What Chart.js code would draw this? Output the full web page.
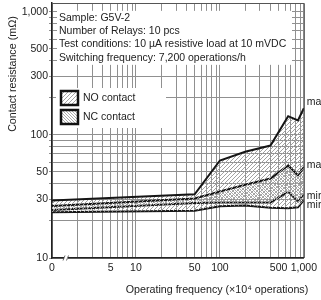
<!DOCTYPE html>
<html>
<head>
<meta charset="utf-8">
<script src="https://cdn.jsdelivr.net/npm/chart.js@4.4.1/dist/chart.umd.min.js"></script>
<style>
html, body { margin: 0; padding: 0; background: #fff; }
#wrap { width: 321px; height: 300px; }
</style>
</head>
<body>
<div id="wrap"><canvas id="contactChart" width="321" height="300"></canvas></div>
<script>
// Operating frequency (x10^4 operations); 1 is shown as "0" on the broken axis
const cycles = [1, 50, 100, 200, 400, 650, 850, 1000];
// Contact resistance (mOhm)
const noMax = [29.3, 32.9, 62, 73, 82, 142, 131, 165];
const noMin = [23.5, 24.2, 26.3, 26.7, 25.6, 25.4, 25.8, 29.6];
const ncMax = [26.5, 30.5, 34.7, 39.4, 44.2, 56.5, 47, 54.7];
const ncMin = [24.5, 28, 28.3, 28.3, 28.2, 34.5, 28.7, 32.5];

const xTickLabels = { 1: '0', 5: '5', 10: '10', 50: '50', 100: '100', 500: '500', 1000: '1,000' };
const yTickLabels = { 10: '10', 30: '30', 50: '50', 100: '100', 300: '300', 500: '500', 1000: '1,000' };
const notes = [
    'Sample: G5V-2',
    'Number of Relays: 10 pcs',
    'Test conditions: 10 \u00b5A resistive load at 10 mVDC',
    'Switching frequency: 7,200 operations/h'
];
const legendNames = ['NO contact', 'NC contact'];
const endLabels = ['max', 'max', 'min', 'min'];

const FONT = '"Liberation Sans", Arial, Helvetica, sans-serif';
const TEXT = '#222';

function logTicks(min, max) {
    const t = [];
    for (let d = min; d < max; d *= 10) {
        for (let k = 1; k < 10; k++) t.push(d * k);
    }
    t.push(max);
    return t;
}

function hatch(dir, step, color) {
    const c = document.createElement('canvas');
    c.width = step; c.height = step;
    const g = c.getContext('2d');
    g.strokeStyle = color;
    g.lineWidth = 1;
    g.beginPath();
    if (dir > 0) {
        g.moveTo(-1, step + 1); g.lineTo(step + 1, -1);
    } else {
        g.moveTo(-1, -1); g.lineTo(step + 1, step + 1);
    }
    g.stroke();
    return g.createPattern(c, 'repeat');
}

const ctx = document.getElementById('contactChart').getContext('2d');
const noFill = hatch(1, 4, '#a2a2a2');
const ncFill = hatch(-1, 3, '#acacac');

function pts(arr) {
    return cycles.map((x, i) => ({ x: x, y: arr[i] }));
}

function lineSet(label, arr, fill, bg) {
    return {
        label: label,
        data: pts(arr),
        fill: fill,
        backgroundColor: bg || 'transparent',
        borderColor: '#151515',
        borderWidth: 2,
        pointRadius: 0,
        tension: 0
    };
}

const extras = {
    id: 'extras',
    afterDraw(chart) {
        const c = chart.ctx;
        const a = chart.chartArea;
        const ys = chart.scales.y;
        c.save();

        // frame top / right
        c.strokeStyle = '#555';
        c.lineWidth = 1;
        c.beginPath();
        c.moveTo(a.left, a.top + 0.5); c.lineTo(a.right + 0.5, a.top + 0.5);
        c.lineTo(a.right + 0.5, a.bottom);
        c.stroke();

        // test condition box
        c.fillStyle = '#fff';
        c.fillRect(a.left + 5, ys.getPixelForValue(1000) - 1, 235, 54);
        c.fillStyle = TEXT;
        c.font = '10.5px ' + FONT;
        c.textBaseline = 'middle';
        c.textAlign = 'left';
        notes.forEach((t, i) => c.fillText(t, a.left + 7, ys.getPixelForValue(1000) + 6 + i * 13.3));

        // legend
        c.fillStyle = '#fff';
        c.fillRect(a.left + 4, 88, 110, 40);
        [noFill, ncFill].forEach((p, i) => {
            const top = 91 + i * 19;
            c.fillStyle = '#fff';
            c.fillRect(a.left + 9, top, 17, 14);
            c.fillStyle = p;
            c.fillRect(a.left + 9, top, 17, 14);
            c.strokeStyle = '#111';
            c.lineWidth = 2.5;
            c.strokeRect(a.left + 9, top, 17, 14);
            c.fillStyle = TEXT;
            c.font = '10.5px ' + FONT;
            c.fillText(legendNames[i], a.left + 31, top + 7.5);
        });

        // max / min tags at the right end
        const ends = [noMax, ncMax, ncMin, noMin];
        const shift = [-6, -2, 1, 5];
        c.font = '10.5px ' + FONT;
        c.fillStyle = TEXT;
        ends.forEach((arr, i) => {
            c.fillText(endLabels[i], a.right + 3, ys.getPixelForValue(arr[arr.length - 1]) + shift[i]);
        });

        // broken axis mark
        c.strokeStyle = '#fff';
        c.lineWidth = 3;
        c.beginPath();
        c.moveTo(a.left + 12, a.bottom); c.lineTo(a.left + 16, a.bottom);
        c.stroke();
        c.strokeStyle = '#444';
        c.lineWidth = 0.8;
        c.beginPath();
        c.moveTo(a.left + 11, a.bottom + 2.5); c.lineTo(a.left + 13, a.bottom - 2.5);
        c.moveTo(a.left + 14.5, a.bottom + 2.5); c.lineTo(a.left + 16.5, a.bottom - 2.5);
        c.stroke();

        // axis titles
        c.fillStyle = TEXT;
        c.font = '10.7px ' + FONT;
        c.textAlign = 'center';
        c.fillText('Operating frequency (\u00d710\u2074 operations)', 217, 290);
        c.translate(13, 74);
        c.rotate(-Math.PI / 2);
        c.fillText('Contact resistance (m\u2126)', 0, 0);
        c.restore();
    }
};

new Chart(ctx, {
    type: 'line',
    data: {
        datasets: [
            lineSet('NO max', noMax, 1, noFill),
            lineSet('NO min', noMin, false),
            lineSet('NC max', ncMax, 3, ncFill),
            lineSet('NC min', ncMin, false)
        ]
    },
    options: {
        responsive: false,
        animation: false,
        layout: { padding: { top: 3, right: 13, left: 0, bottom: 0 } },
        plugins: {
            legend: { display: false },
            tooltip: { enabled: false }
        },
        scales: {
            x: {
                type: 'logarithmic',
                min: 1,
                max: 1000,
                afterBuildTicks: s => { s.ticks = logTicks(1, 1000).map(v => ({ value: v })); },
                afterFit: s => { s.height = 42; },
                ticks: {
                    autoSkip: false,
                    maxRotation: 0,
                    padding: 4,
                    color: TEXT,
                    font: { family: FONT, size: 10.5 },
                    callback: v => xTickLabels[v] || ''
                },
                grid: { color: '#909090', lineWidth: 1, drawTicks: false },
                border: { color: '#222', width: 1.5 }
            },
            y: {
                type: 'logarithmic',
                min: 10,
                max: 1180,
                afterBuildTicks: s => { s.ticks = logTicks(10, 1000).map(v => ({ value: v })); },
                afterFit: s => { s.width = 52; s.paddingTop = 0; s.paddingBottom = 0; },
                ticks: {
                    autoSkip: false,
                    padding: 1,
                    color: TEXT,
                    font: { family: FONT, size: 10.5 },
                    callback: v => yTickLabels[v] || ''
                },
                grid: { color: '#909090', lineWidth: 1, tickLength: 3 },
                border: { color: '#222', width: 1.5 }
            }
        }
    },
    plugins: [extras]
});
</script>
</body>
</html>
